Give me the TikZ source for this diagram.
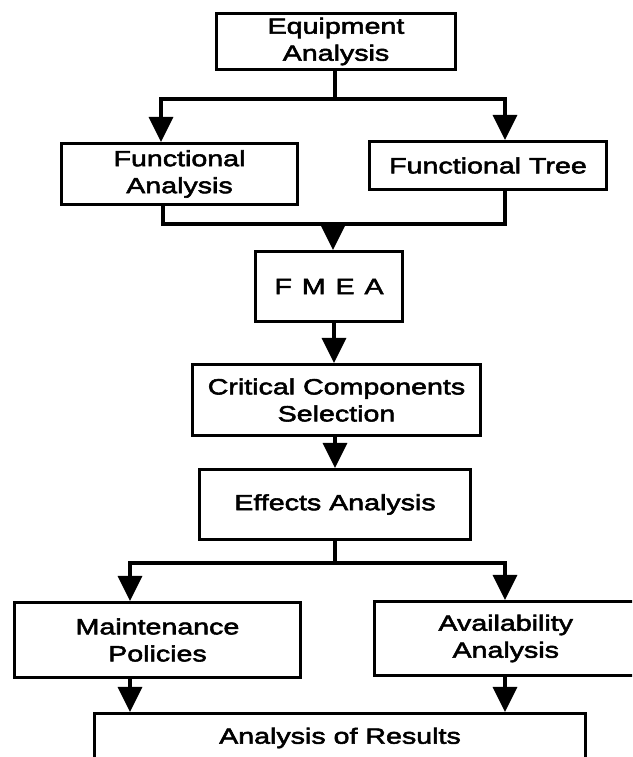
\documentclass[tikz,border=0pt]{standalone}
\usepackage{fontspec}
\setmainfont{Liberation Sans}[FakeStretch=1.3,FakeBold=2.5]
\usetikzlibrary{arrows.meta}
\begin{document}
\begin{tikzpicture}[x=1pt,y=-1pt,
  box/.style={draw,line width=3.2pt,rectangle,inner sep=0pt,align=center,
    font=\fontsize{22}{27}\selectfont},
  conn/.style={line width=3.4pt,line cap=rect,line join=miter},
  arr/.style={conn,-{Triangle[length=25pt,width=24pt]}}]
\useasboundingbox (0,0) rectangle (632,757);
\clip (0,0) rectangle (632,757);
\fill[white] (0,0) rectangle (632,757);
% nodes
\node[box,minimum width=239pt,minimum height=56pt] (EA) at (336,41.5) {Equipment\\Analysis};
\node[box,minimum width=236pt,minimum height=61pt] (FA) at (179.5,174) {Functional\\Analysis};
\node[box,minimum width=237pt,minimum height=48pt] (FT) at (488,165.5) {Functional Tree};
\node[box,minimum width=147pt,minimum height=70pt] (FM) at (329,286.5) {F\hspace{0.45em}M\hspace{0.45em}E\hspace{0.45em}A};
\node[box,minimum width=288pt,minimum height=71pt] (CC) at (336.5,400) {Critical Components\\Selection};
\node[box,minimum width=271pt,minimum height=70pt] (EF) at (335,504.5) {Effects Analysis};
\node[box,minimum width=286pt,minimum height=75pt] (MP) at (157.5,640) {Maintenance\\Policies};
\node[box,minimum width=262.5pt,minimum height=74pt] (AA) at (505.75,638.5) {Availability\\Analysis};
\node[box,minimum width=491pt,minimum height=49pt] (RS) at (340,738) {Analysis of Results};
% junction coordinates
\coordinate (t1) at (161,99);
\coordinate (t2) at (505,99);
\coordinate (m1) at (163,224);
\coordinate (m2) at (505,224);
\coordinate (fm) at (333,224);
\coordinate (a2) at (334,0);
\coordinate (a3) at (335,0);
\coordinate (b1) at (130,563);
\coordinate (b2) at (505,563);
% connectors
\draw[arr] (EA.south -| a3) -- (t1 -| a3) -| (FA.north -| t1);
\draw[arr] (t1 -| a3) -| (FT.north -| t2);
\draw[conn] (FA.south -| m1) -- (m1) -- (m2) -- (FT.south -| m2);
\draw[arr] (fm) -- (FM.north -| fm);
\draw[arr] (FM.south -| a2) -- (CC.north -| a2);
\draw[arr] (CC.south -| a3) -- (EF.north -| a3);
\draw[arr] (EF.south -| a3) -- (b1 -| a3) -| (MP.north -| b1);
\draw[arr] (b1 -| a3) -| (AA.north -| b2);
\draw[arr] (MP.south -| b1) -- (RS.north -| b1);
\draw[arr] (AA.south -| b2) -- (RS.north -| b2);
\end{tikzpicture}
\end{document}
